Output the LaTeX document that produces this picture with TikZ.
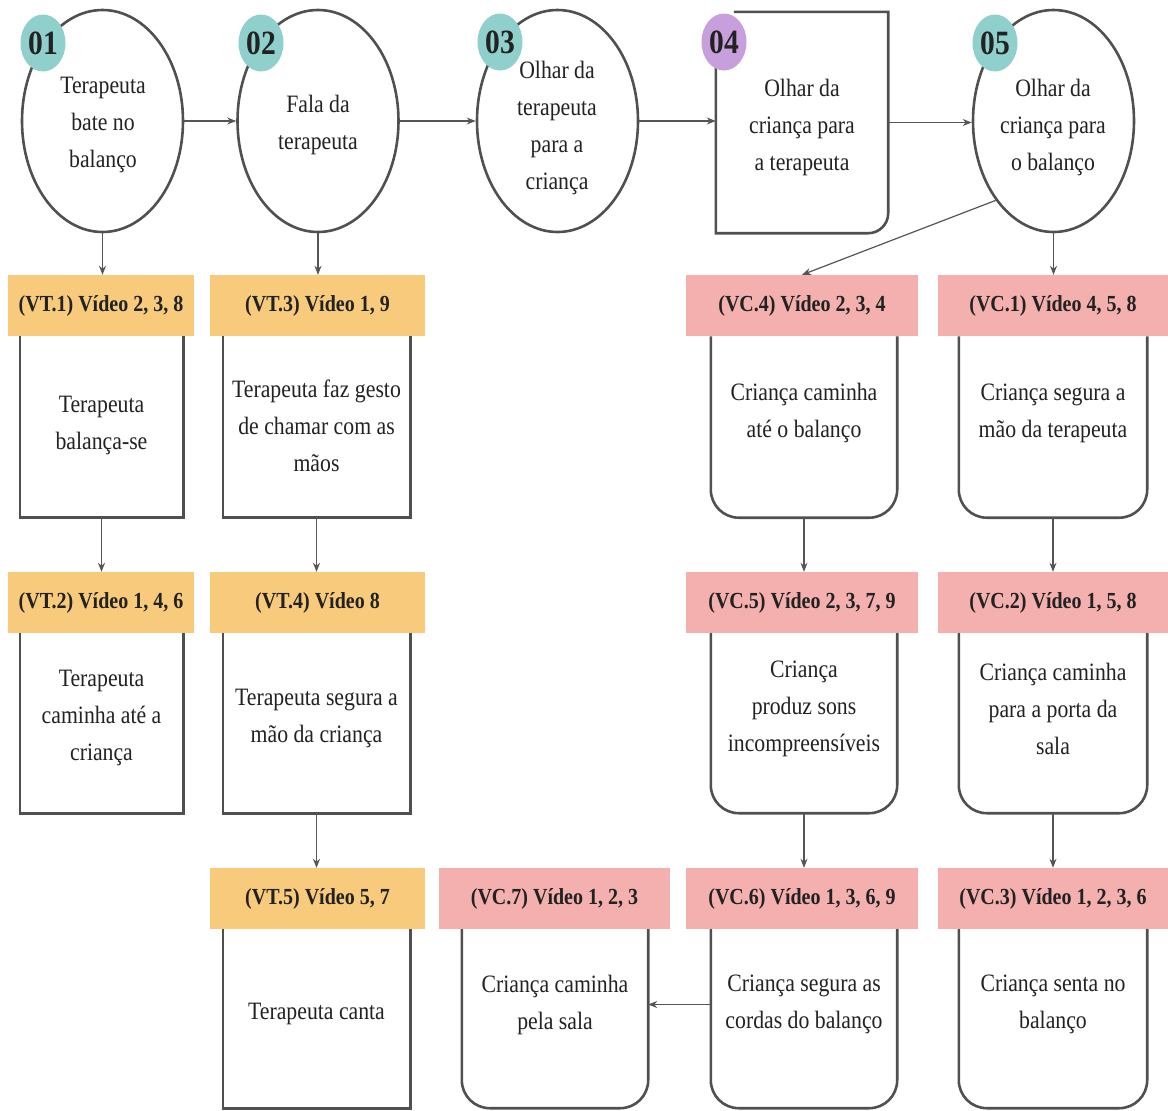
\documentclass[tikz,border=0pt]{standalone}
\usepackage{fontspec}
\setmainfont{Liberation Serif}[FakeStretch=0.87]
\usetikzlibrary{shapes.geometric,arrows.meta}
\definecolor{linec}{HTML}{505050}
\definecolor{arrc}{HTML}{555555}
\definecolor{badgeteal}{HTML}{8FD0CC}
\definecolor{badgepurple}{HTML}{C79FDD}
\definecolor{hdryellow}{HTML}{F8CB7C}
\definecolor{hdrpink}{HTML}{F3B0AE}
\definecolor{txt}{HTML}{222222}
\newcommand\bodyfnt{\fontsize{25}{37}\selectfont}
\newcommand\hdrfnt{\fontsize{23}{27}\selectfont\bfseries}
\newcommand\badgefnt{\fontsize{34}{36}\selectfont\bfseries}
\tikzset{
 stepell/.style={ellipse, draw=linec, line width=2.6pt, fill=white, minimum width=161pt, minimum height=222pt, inner sep=0pt},
 badge/.style={ellipse, minimum width=45pt, minimum height=57pt, inner sep=0pt, font=\badgefnt, text=txt},
 hdr/.style={rectangle, inner sep=0pt, minimum height=61pt, font=\hdrfnt, text=txt},
 hdrY/.style={hdr, fill=hdryellow},
 hdrP/.style={hdr, fill=hdrpink},
 boxarea/.style={rectangle, inner sep=0pt},
 btext/.style={align=center, font=\bodyfnt, text=txt, inner sep=0pt},
 outl/.style={draw=linec, line width=2.6pt},
 conn/.style={draw=arrc, line width=1.2pt, -{Stealth[length=9pt,width=7pt]}},
}
\begin{document}
\begin{tikzpicture}[x=1pt,y=-1pt]
\useasboundingbox[fill=white] (0,0) rectangle (1168,1111);

% ---- top row ----
\node[stepell] (c1) at (102.5,121) {};
\node[btext] (t1) at (103,125) {Terapeuta\\bate no\\balanço};
\node[stepell] (c2) at (318,121) {};
\node[btext] (t2) at (318,125) {Fala da\\terapeuta};
\node[stepell] (c3) at (557.5,121) {};
\node[btext] (t3) at (557,128) {Olhar da\\terapeuta\\para a\\criança};
\node[boxarea, minimum width=172pt, minimum height=221pt] (s4) at (802,122.5) {};
\draw[outl] ([yshift=-45pt]s4.north west) -- (s4.south west) -- ([xshift=-20pt]s4.south east)
  arc[start angle=-90,end angle=0,radius=20pt] -- (s4.north east) -- ([xshift=18pt]s4.north west);
\node[btext] (t4) at (802,127) {Olhar da\\criança para\\a terapeuta};
\node[stepell] (c5) at (1053.5,121) {};
\node[btext] (t5) at (1053,127) {Olhar da\\criança para\\o balanço};

\node[badge, fill=badgeteal] (n1) at (43,43) {01};
\node[badge, fill=badgeteal] (n2) at (261,43) {02};
\node[badge, fill=badgeteal] (n3) at (500,42) {03};
\node[badge, fill=badgepurple] (n4) at (724,42) {04};
\node[badge, fill=badgeteal] (n5) at (995,43) {05};

% ---- boxes ----
\node[boxarea, minimum width=163pt, minimum height=181pt] (bvt1) at (101.5,426.5) {};
\node[boxarea, minimum width=187pt, minimum height=181pt] (bvt3) at (316.5,426.5) {};
\node[boxarea, minimum width=186pt, minimum height=181pt] (bvc4) at (804,427) {};
\node[boxarea, minimum width=188pt, minimum height=181pt] (bvc1) at (1053,427) {};
\node[boxarea, minimum width=163pt, minimum height=180pt] (bvt2) at (101.5,723) {};
\node[boxarea, minimum width=187pt, minimum height=180pt] (bvt4) at (316.5,723) {};
\node[boxarea, minimum width=186pt, minimum height=180pt] (bvc5) at (804,723) {};
\node[boxarea, minimum width=188pt, minimum height=180pt] (bvc2) at (1053,723) {};
\node[boxarea, minimum width=187pt, minimum height=179pt] (bvt5) at (316.5,1018.5) {};
\node[boxarea, minimum width=186pt, minimum height=179pt] (bvc7) at (555,1018.5) {};
\node[boxarea, minimum width=186pt, minimum height=179pt] (bvc6) at (804,1018.5) {};
\node[boxarea, minimum width=188pt, minimum height=179pt] (bvc3) at (1053,1018.5) {};

\foreach \b in {bvt1,bvt3,bvt2,bvt4,bvt5}
  \draw[outl] (\b.north west) -- (\b.south west) -- (\b.south east) -- (\b.north east);
\foreach \b in {bvc4,bvc1,bvc5,bvc2,bvc7,bvc6,bvc3}
  \draw[outl, rounded corners=28pt] (\b.north west) -- (\b.south west) -- (\b.south east) -- (\b.north east);

\node[btext] (xvt1) at ([yshift=1pt]bvt1.center) {Terapeuta\\balança-se};
\node[btext] (xvt3) at ([yshift=1pt]bvt3.center) {Terapeuta faz gesto\\de chamar com as\\mãos};
\node[btext] (xvt2) at ([yshift=5pt]bvt2.center) {Terapeuta\\caminha até a\\criança};
\node[btext] (xvt4) at ([yshift=5pt]bvt4.center) {Terapeuta segura a\\mão da criança};
\node[btext] (xvt5) at ([yshift=5pt]bvt5.center) {Terapeuta canta};
\node[btext] (xvc4) at ([yshift=14pt]bvc4.center) {Criança caminha\\até o balanço};
\node[btext] (xvc1) at ([yshift=14pt]bvc1.center) {Criança segura a\\mão da terapeuta};
\node[btext] (xvc5) at ([yshift=14pt]bvc5.center) {Criança\\produz sons\\incompreensíveis};
\node[btext] (xvc2) at ([yshift=14pt]bvc2.center) {Criança caminha\\para a porta da\\sala};
\node[btext] (xvc7) at ([yshift=14pt]bvc7.center) {Criança caminha\\pela sala};
\node[btext] (xvc6) at ([yshift=14pt]bvc6.center) {Criança segura as\\cordas do balanço};
\node[btext] (xvc3) at ([yshift=14pt]bvc3.center) {Criança senta no\\balanço};

% ---- headers ----
\node[hdrY, minimum width=186pt] (hvt1) at (101,305.5) {(VT.1) Vídeo 2, 3, 8};
\node[hdrY, minimum width=215pt] (hvt3) at (317.5,305.5) {(VT.3) Vídeo 1, 9};
\node[hdrP, minimum width=232pt] (hvc4) at (802,305.5) {(VC.4) Vídeo 2, 3, 4};
\node[hdrP, minimum width=230pt] (hvc1) at (1053,305.5) {(VC.1) Vídeo 4, 5, 8};
\node[hdrY, minimum width=186pt] (hvt2) at (101,602.5) {(VT.2) Vídeo 1, 4, 6};
\node[hdrY, minimum width=215pt] (hvt4) at (317.5,602.5) {(VT.4) Vídeo 8};
\node[hdrP, minimum width=232pt] (hvc5) at (802,602.5) {(VC.5) Vídeo 2, 3, 7, 9};
\node[hdrP, minimum width=230pt] (hvc2) at (1053,602.5) {(VC.2) Vídeo 1, 5, 8};
\node[hdrY, minimum width=215pt] (hvt5) at (317.5,898.5) {(VT.5) Vídeo 5, 7};
\node[hdrP, minimum width=231pt] (hvc7) at (554.5,898.5) {(VC.7) Vídeo 1, 2, 3};
\node[hdrP, minimum width=232pt] (hvc6) at (802,898.5) {(VC.6) Vídeo 1, 3, 6, 9};
\node[hdrP, minimum width=230pt] (hvc3) at (1053,898.5) {(VC.3) Vídeo 1, 2, 3, 6};

% ---- connectors ----
\draw[conn] (c1) -- (c2);
\draw[conn] (c2) -- (c3);
\draw[conn] (c3.east) -- (c3.east -| s4.west);
\draw[conn] (s4.east) -- (s4.east -| c5.west);
\draw[conn] (c1.south) -- (c1.south |- hvt1.north);
\draw[conn] (c2.south) -- (c2.south |- hvt3.north);
\draw[conn] (bvt1.south) -- (bvt1.south |- hvt2.north);
\draw[conn] (bvt3.south) -- (bvt3.south |- hvt4.north);
\draw[conn] (bvt4.south) -- (bvt4.south |- hvt5.north);
\draw[conn] (c5.south) -- (c5.south |- hvc1.north);
\draw[conn] (c5.south west) -- (hvc4.north);
\draw[conn] (bvc4.south) -- (bvc4.south |- hvc5.north);
\draw[conn] (bvc5.south) -- (bvc5.south |- hvc6.north);
\draw[conn] (bvc1.south) -- (bvc1.south |- hvc2.north);
\draw[conn] (bvc2.south) -- (bvc2.south |- hvc3.north);
\draw[conn] ([yshift=14pt]bvc6.west) -- ([yshift=14pt]bvc7.east);
\end{tikzpicture}
\end{document}
